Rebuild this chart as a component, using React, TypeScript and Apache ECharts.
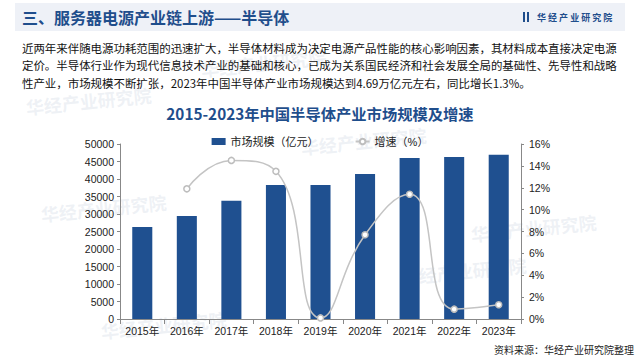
import React, { useEffect, useRef } from "react";
import * as echarts from "echarts";

const years = ["2015年", "2016年", "2017年", "2018年", "2019年", "2020年", "2021年", "2022年", "2023年"];
const marketSize = [26300, 29400, 33800, 38300, 38300, 41400, 46000, 46300, 46900];
const growth: (number | string)[] = ["-", 11.9, 14.5, 13.5, 0.1, 7.7, 11.4, 0.9, 1.3];
const paragraph = [
  "近两年来伴随电源功耗范围的迅速扩大，半导体材料成为决定电源产品性能的核心影响因素，其材料成本直接决定电源",
  "定价。半导体行业作为现代信息技术产业的基础和核心，已成为关系国民经济和社会发展全局的基础性、先导性和战略",
  "性产业，市场规模不断扩张，2023年中国半导体产业市场规模达到4.69万亿元左右，同比增长1.3%。",
];
const headerTitle = "三、服务器电源产业链上游——半导体";
const chartTitle = "2015-2023年中国半导体产业市场规模及增速";
const sourceText = "资料来源：华经产业研究院整理";
const brand = "华 经 产 业 研 究 院";

const FONT = "'Liberation Sans', 'Noto Sans CJK SC', sans-serif";
const NARROW = "'Liberation Sans Narrow', 'Noto Sans CJK SC', sans-serif";
const CJK = "'Noto Sans CJK SC', sans-serif";

export default function App() {
  const ref = useRef<HTMLDivElement>(null);
  useEffect(() => {
    if (!ref.current) return;
    const chart = echarts.init(ref.current, null, { renderer: "svg" });
    const watermarks = [
      [200, 60], [25, 98], [300, 138], [40, 205], [100, 322], [400, 268], [470, 225],
    ].map(([x, y]) => ({
      type: "text",
      x,
      y,
      rotation: 0.1,
      z: 0,
      style: { text: "华经产业研究院", fill: "rgba(190,200,215,0.25)", font: `bold 18px ${CJK}` },
    }));
    chart.setOption({
      animation: false,
      backgroundColor: "#ffffff",
      textStyle: { fontFamily: FONT },
      graphic: [
        ...watermarks,
        { type: "rect", shape: { x: 15, y: 3, width: 610, height: 28 }, style: { fill: "#eef1f7" }, z: 1 },
        {
          type: "text", x: 22, y: 17, z: 2,
          style: { text: headerTitle, fill: "#1f4e8c", font: `bold 16px ${CJK}`, textVerticalAlign: "middle" },
        },
        { type: "rect", shape: { x: 523, y: 12, width: 2, height: 10 }, style: { fill: "#1f4e8c" }, z: 2 },
        { type: "rect", shape: { x: 527, y: 12, width: 2, height: 10 }, style: { fill: "#1f4e8c" }, z: 2 },
        {
          type: "text", x: 537, y: 17, z: 2,
          style: { text: brand, fill: "#1f4e8c", font: `bold 9px ${CJK}`, textVerticalAlign: "middle" },
        },
        ...paragraph.map((t, i) => ({
          type: "text", x: 22, y: 48 + i * 17.3, z: 2,
          style: { text: t, fill: "#111", font: `11.45px ${CJK}`, textVerticalAlign: "middle" },
        })),
        {
          type: "text", x: 634, y: 349, z: 2,
          style: { text: sourceText, fill: "#222", font: `10px ${CJK}`, textAlign: "right", textVerticalAlign: "middle" },
        },
      ],
      title: {
        text: chartTitle,
        left: "center",
        top: 100,
        textStyle: { color: "#1f4e8c", fontSize: 15.3, fontWeight: "bold", fontFamily: NARROW },
      },
      legend: {
        top: 131,
        left: "center",
        itemGap: 36,
        itemWidth: 14,
        itemHeight: 7,
        textStyle: { color: "#222", fontSize: 11, fontFamily: FONT },
        data: [
          { name: "市场规模（亿元）", icon: "rect" },
          { name: "增速（%）" },
        ],
      },
      grid: { left: 120, right: 119, top: 144, bottom: 37 },
      xAxis: {
        type: "category",
        data: years,
        axisLine: { lineStyle: { color: "#888" } },
        axisTick: { show: true, lineStyle: { color: "#888" } },
        axisLabel: { color: "#222", fontSize: 10.5, margin: 7, interval: 0, fontFamily: FONT },
      },
      yAxis: [
        {
          type: "value", min: 0, max: 50000, interval: 5000,
          splitLine: { show: false },
          axisLine: { show: true, lineStyle: { color: "#888" } },
          axisTick: { show: true, length: 3, lineStyle: { color: "#888" } },
          axisLabel: { color: "#222", fontSize: 10.5, margin: 6, fontFamily: FONT, formatter: (v: number) => String(v) },
        },
        {
          type: "value", min: 0, max: 16, interval: 2,
          splitLine: { show: false },
          axisLine: { show: true, lineStyle: { color: "#888" } },
          axisTick: { show: true, length: 3, lineStyle: { color: "#888" } },
          axisLabel: { color: "#222", fontSize: 10.5, margin: 8, formatter: "{value}%", fontFamily: FONT },
        },
      ],
      series: [
        {
          name: "市场规模（亿元）",
          type: "bar",
          data: marketSize,
          barWidth: "45%",
          itemStyle: { color: "#1f5090" },
          z: 2,
        },
        {
          name: "增速（%）",
          type: "line",
          yAxisIndex: 1,
          data: growth,
          smooth: 0.5,
          symbol: "circle",
          symbolSize: 6,
          lineStyle: { color: "#c4c4c4", width: 1.5 },
          itemStyle: { color: "#ffffff", borderColor: "#bdbdbd", borderWidth: 1.5 },
          z: 3,
        },
      ],
    });
    return () => chart.dispose();
  }, []);
  return (
    <div
      ref={ref}
      style={{ position: "fixed", left: 0, top: 0, width: 640, height: 356 }}
    />
  );
}
